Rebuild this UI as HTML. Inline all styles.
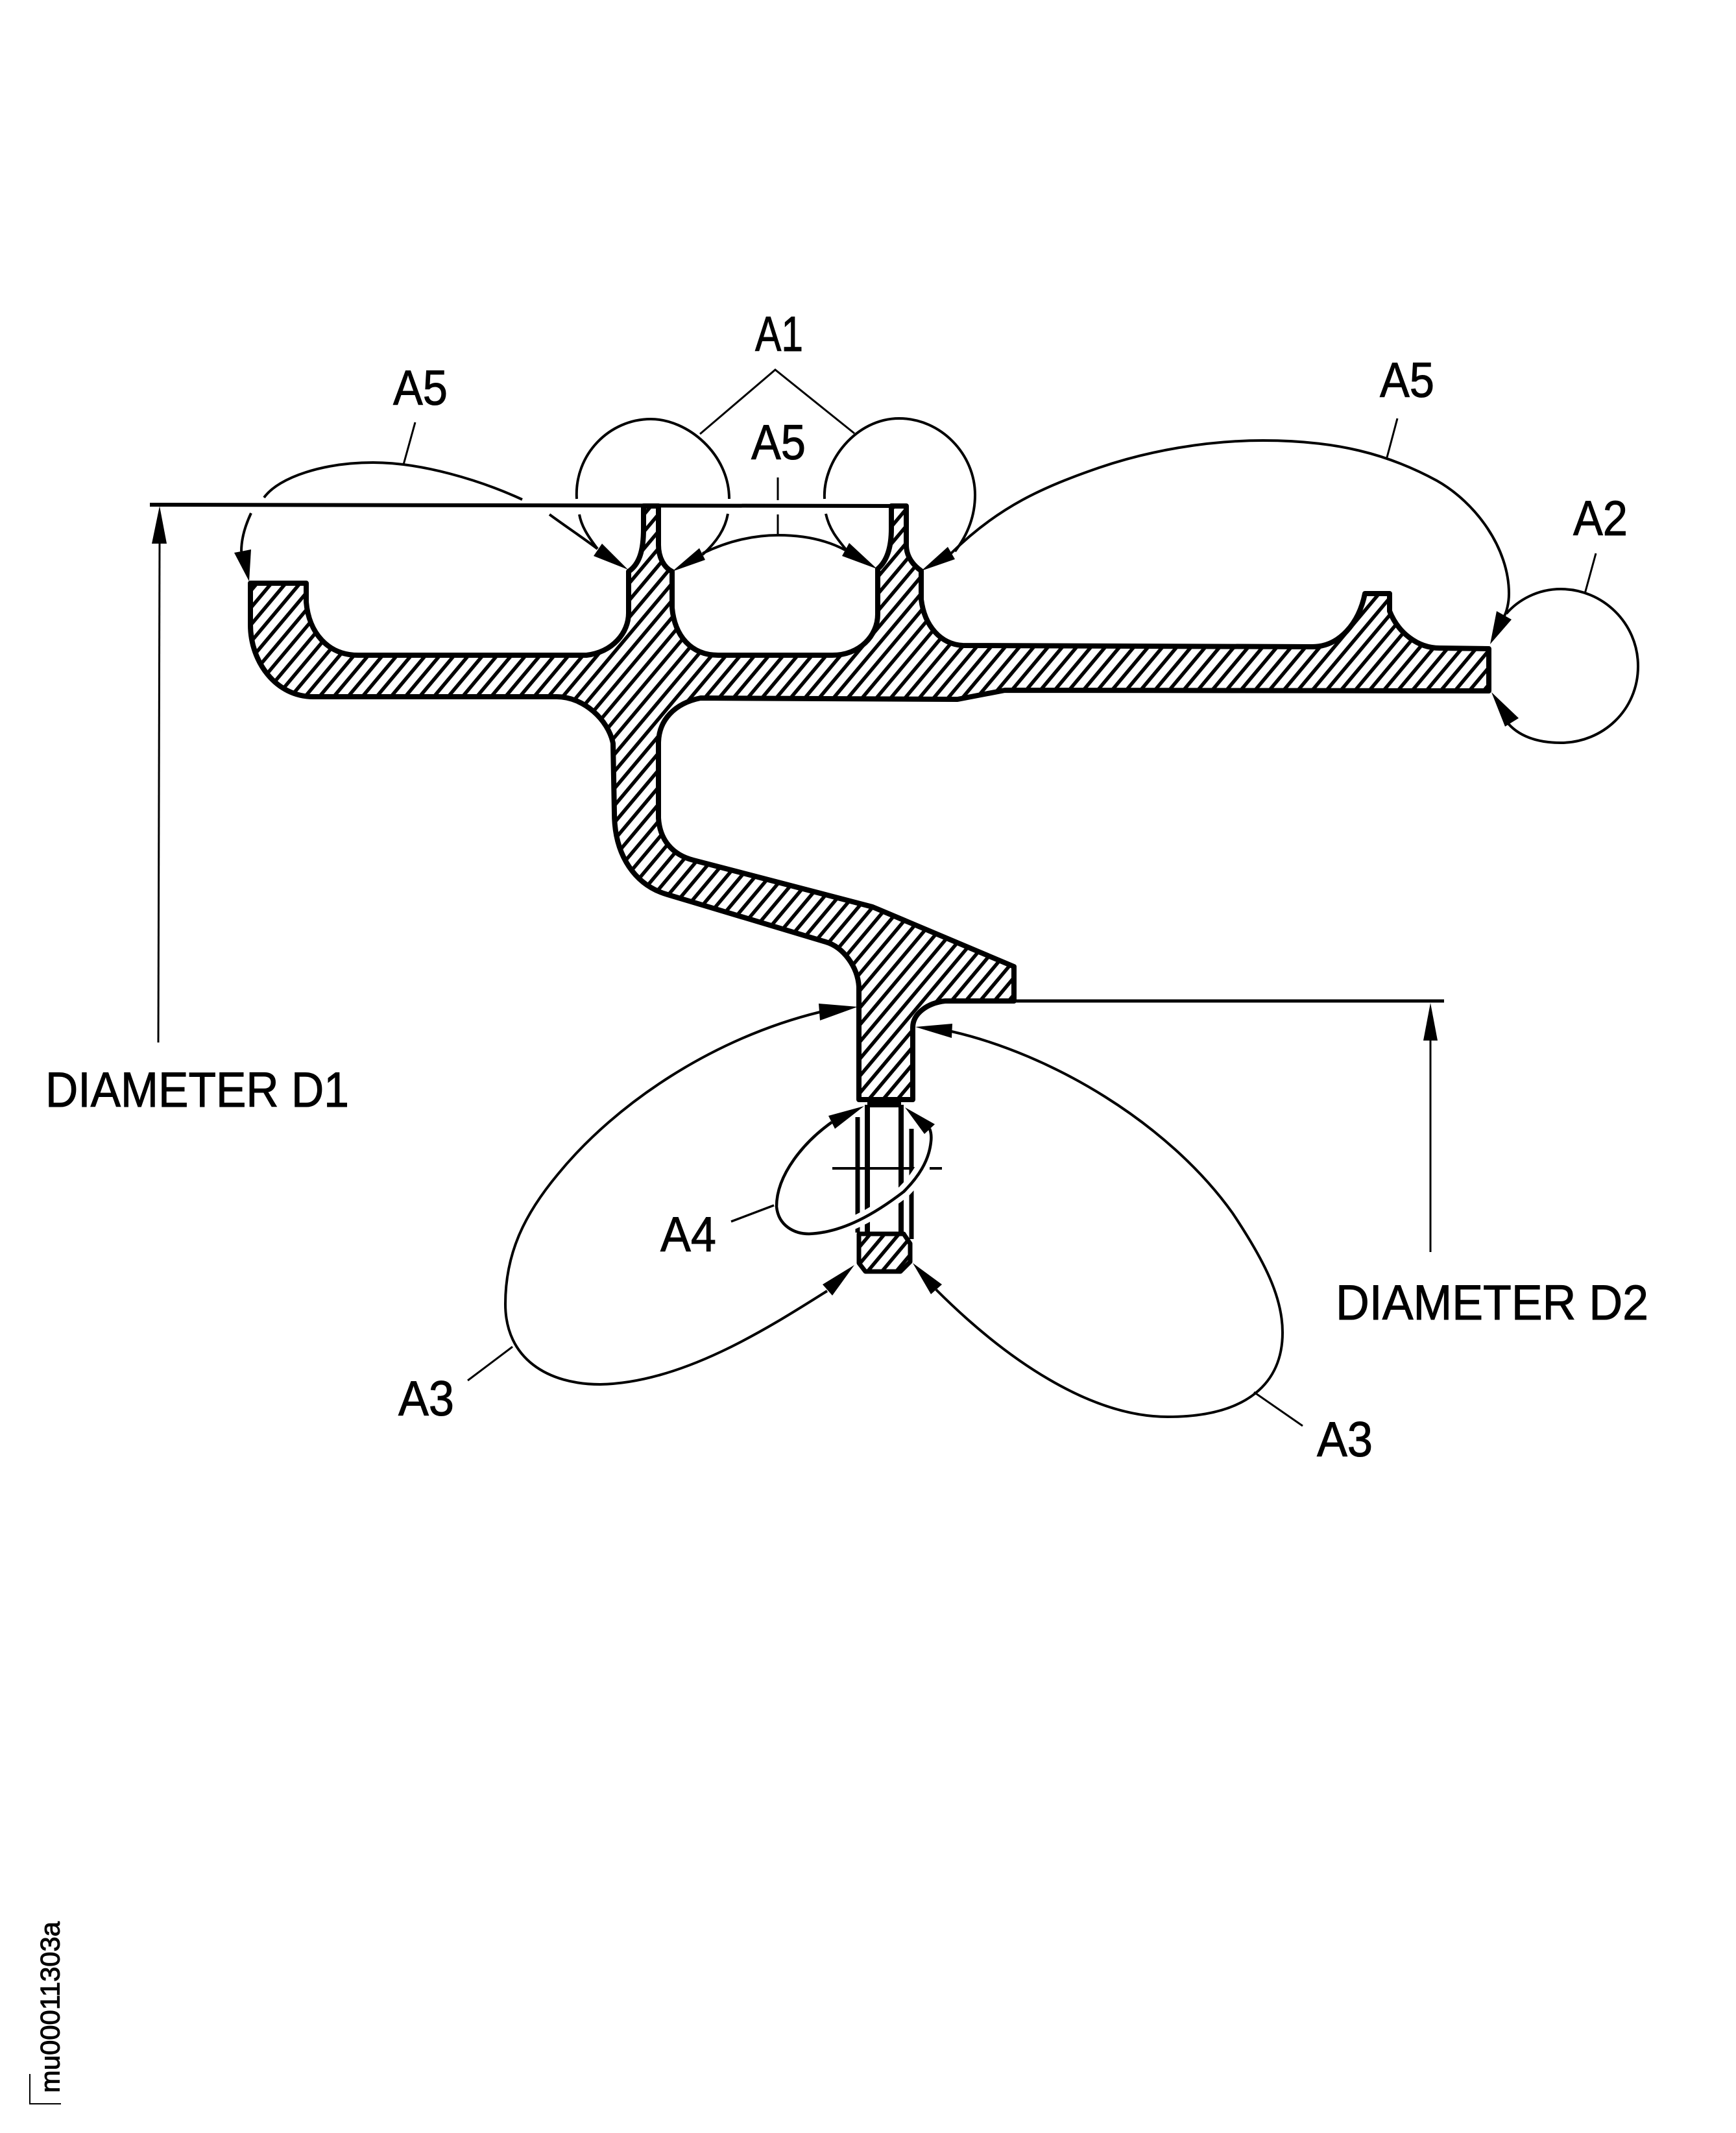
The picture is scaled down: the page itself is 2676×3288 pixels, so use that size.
<!DOCTYPE html>
<html><head><meta charset="utf-8"><style>html,body{margin:0;padding:0;background:#fff}svg{display:block}text{font-family:"Liberation Sans",sans-serif;fill:#000;stroke:#000;stroke-width:1}</style></head>
<body>
<svg xmlns="http://www.w3.org/2000/svg" width="2676" height="3288" viewBox="0 0 2676 3288">
<defs>
<pattern id="h" patternUnits="userSpaceOnUse" width="16.9" height="16.9" patternTransform="rotate(-50)">
<rect width="16.9" height="16.9" fill="#fff"/><rect x="0" y="0" width="16.9" height="5.5" fill="#000"/>
</pattern>
</defs>
<rect width="2676" height="3288" fill="#fff"/>

<!-- section body -->
<path fill="url(#h)" stroke="#000" stroke-width="8" stroke-linejoin="round" d="M386 899 L472 899 L472 928 C476 975 505 1010 552 1010 L904 1010 C945 1005 969 975 969 945 L969 881 C985 870 992 850 992 815 L992 780 L1015 780 L1015 840 C1015 860 1024 875 1036 881 L1036 937 C1040 980 1065 1010 1107 1010 L1283 1010 C1325 1010 1353 980 1353 947 L1353 877 C1367 865 1374 845 1374 815 L1374 780 L1397 780 L1397 840 C1397 860 1410 873 1420 880 L1420 924 C1425 965 1450 993 1484 995 L2023 997 C2065 997 2095 960 2104 915 L2142 915 L2142 942 C2155 975 2185 999 2219 999 L2295 1000 L2295 1065 L1549 1064 L1476 1078 L1080 1076 C1040 1084 1015 1110 1015 1146 L1015 1261 C1017 1295 1037 1318 1069 1326 L1345 1398 L1563 1490 L1563 1543 L1457 1543 C1430 1546 1407 1562 1407 1584 L1407 1695 L1324 1695 L1324 1521 C1322 1490 1300 1460 1273 1452 L1029 1379 C980 1365 947 1320 947 1253 L945 1146 C938 1110 900 1074 858 1074 L483 1074 C425 1074 386 1020 386 963 Z"/>
<path fill="url(#h)" stroke="#000" stroke-width="7" stroke-linejoin="round" d="M1324 1902 L1393 1902 L1403 1917 L1403 1945 L1388 1960 L1334 1960 L1324 1947 Z"/>

<!-- dimension lines -->
<g stroke="#000" fill="none">
<path stroke-width="6" d="M231 778 L1399 780"/>
<path stroke-width="3" d="M246 835 L244 1607"/>
<path stroke-width="5" d="M1563 1543 L2226 1543"/>
<path stroke-width="3" d="M2205 1595 L2205 1930"/>
</g>
<polygon points="246,780 234,838 257,838"/>
<polygon points="2205,1546 2194,1604 2216,1604"/>

<!-- thread -->
<g stroke="#000" fill="none">
<path stroke-width="8" d="M1337 1703 L1337 1900 M1389 1703 L1389 1900 M1337 1703 L1389 1703"/>
<path stroke-width="7" d="M1322 1722 L1322 1900 M1405 1740 L1405 1910"/>
<path stroke-width="4" d="M1283 1801 L1412 1801 M1433 1801 L1452 1801"/>
</g>

<!-- A4 loop -->
<path stroke="#fff" stroke-width="20" fill="none" d="M1247 1902 C1300 1900 1350 1870 1393 1837 C1415 1815 1430 1790 1435 1760"/>
<path stroke="#000" stroke-width="4.5" fill="none" d="M1282 1730 C1240 1760 1197 1810 1197 1860 C1200 1890 1225 1902 1247 1902 C1300 1900 1350 1870 1393 1837 C1415 1815 1432 1790 1435 1760 C1436 1752 1435 1745 1433 1740"/>
<polygon points="1332,1705 1277,1720 1287,1740"/>
<polygon points="1395,1707 1441,1733 1425,1748"/>
<path stroke="#000" stroke-width="3.5" d="M1193 1858 L1127 1883"/>

<!-- thin curves -->
<g stroke="#000" stroke-width="4" fill="none">
<!-- A1 left -->
<path d="M889 769 C885 700 940 646 1003 646 C1060 646 1124 700 1124 769"/>
<path d="M893 793 C896 810 905 825 921 846"/>
<path d="M1122 792 C1118 815 1105 835 1083 855"/>
<!-- A1 right -->
<path d="M1271 769 C1268 710 1320 645 1386 645 C1450 645 1503 700 1503 763 C1503 790 1495 820 1472 850"/>
<path d="M1273 792 C1278 815 1290 830 1304 847"/>
<!-- A1 leaders -->
<path stroke-width="3" d="M1079 669 L1195 570 L1317 668"/>
<!-- A5 mid -->
<path d="M1083 853 C1120 835 1160 825 1200 825 C1240 825 1275 833 1303 848"/>
<path stroke-width="3" d="M1199 736 L1199 771 M1199 793 L1199 823"/>
<!-- A5 left -->
<path d="M372 850 C372 830 378 810 387 791"/>
<path d="M407 767 C430 735 500 713 575 713 C650 713 740 740 805 770"/>
<path d="M847 793 C870 810 900 830 921 846"/>
<path stroke-width="3" d="M640 651 L622 716"/>
<!-- A5 right -->
<path d="M1466 853 C1540 780 1610 750 1694 721 C1770 695 1860 679 1947 679 C2060 679 2140 700 2215 741 C2275 775 2326 845 2326 915 C2326 930 2322 945 2318 951"/>
<path stroke-width="3" d="M2154 645 L2138 705"/>
<!-- A2 -->
<path d="M2322 946 C2340 925 2370 908 2406 908 C2470 908 2525 960 2525 1027 C2525 1095 2470 1145 2406 1145 C2370 1145 2340 1135 2322 1112"/>
<path stroke-width="3" d="M2460 853 L2443 915"/>
<!-- A3 left -->
<path d="M1264 1560 C1100 1600 950 1700 860 1810 C810 1870 779 1930 779 2010 C779 2095 845 2134 925 2134 C1050 2132 1180 2050 1275 1990"/>
<path stroke-width="3" d="M790 2076 L721 2128"/>
<!-- A3 right -->
<path d="M1467 1590 C1620 1625 1800 1730 1900 1870 C1950 1945 1977 2000 1977 2054 C1977 2130 1925 2184 1800 2184 C1680 2184 1550 2095 1443 1988"/>
<path stroke-width="3" d="M1933 2146 L2008 2198"/>
</g>

<!-- arrowheads -->
<polygon points="384,896 361,852 387,847"/>
<polygon points="968,878 915,857 928,838"/>
<polygon points="1036,881 1087,863 1078,845"/>
<polygon points="1352,877 1298,857 1309,837"/>
<polygon points="1420,880 1472,862 1461,843"/>
<polygon points="2297,993 2307,942 2330,955"/>
<polygon points="2299,1067 2341,1107 2320,1120"/>
<polygon points="1322,1552 1262,1547 1264,1573"/>
<polygon points="1411,1583 1468,1578 1467,1600"/>
<polygon points="1317,1950 1268,1980 1283,1997"/>
<polygon points="1407,1947 1452,1980 1435,1995"/>

<!-- labels -->
<g font-size="76">
<text x="1164" y="541" textLength="74" lengthAdjust="spacingAndGlyphs">A1</text>
<text x="606" y="624" textLength="84" lengthAdjust="spacingAndGlyphs">A5</text>
<text x="1158" y="708" textLength="84" lengthAdjust="spacingAndGlyphs">A5</text>
<text x="2127" y="612" textLength="84" lengthAdjust="spacingAndGlyphs">A5</text>
<text x="2425" y="825" textLength="84" lengthAdjust="spacingAndGlyphs">A2</text>
<text x="70" y="1706" textLength="468" lengthAdjust="spacingAndGlyphs">DIAMETER D1</text>
<text x="2059" y="2034" textLength="482" lengthAdjust="spacingAndGlyphs">DIAMETER D2</text>
<text x="1018" y="1929" textLength="86" lengthAdjust="spacingAndGlyphs">A4</text>
<text x="614" y="2182" textLength="86" lengthAdjust="spacingAndGlyphs">A3</text>
<text x="2030" y="2245" textLength="86" lengthAdjust="spacingAndGlyphs">A3</text>
</g>
<text transform="translate(91.5 3226) rotate(-90)" font-size="42" textLength="264" lengthAdjust="spacingAndGlyphs">mu00011303a</text>
<path stroke="#000" stroke-width="2" fill="none" d="M46 3197 L46 3243 L94 3243"/>
</svg>
</body></html>
